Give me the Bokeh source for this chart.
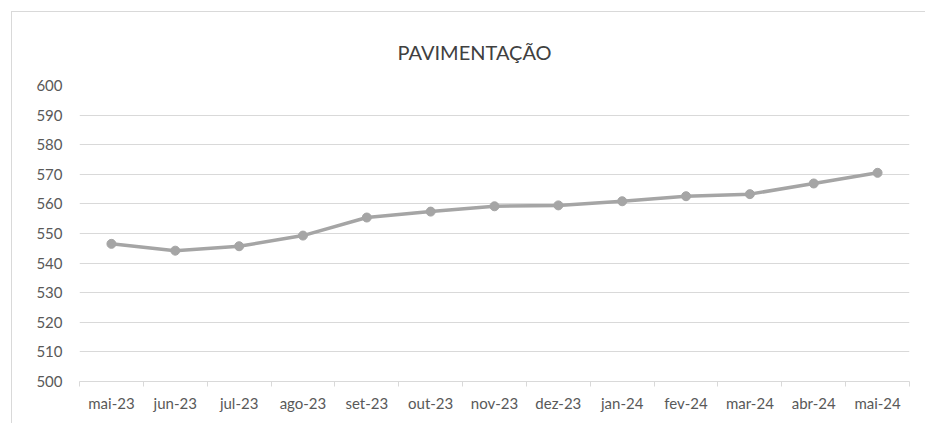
from bokeh.plotting import figure
from bokeh.models import Range1d, FixedTicker, Title, ColumnDataSource
from bokeh.embed import file_html
from bokeh.resources import INLINE

categories = ["mai-23", "jun-23", "jul-23", "ago-23", "set-23", "out-23", "nov-23",
              "dez-23", "jan-24", "fev-24", "mar-24", "abr-24", "mai-24"]
values = [546.5, 544.2, 545.7, 549.3, 555.4, 557.4, 559.2, 559.5, 560.9, 562.6, 563.3, 566.9, 570.5]
y_ticks = list(range(500, 601, 10))

xs = [i + 0.5 for i in range(len(categories))]
src = ColumnDataSource(dict(x=xs, y=values, cat=categories))

FONT = "Lato"
TXT = "#595959"
GRID = "#d9d9d9"

p = figure(width=914, height=412, output_backend="svg", toolbar_location=None,
           x_range=Range1d(0, len(categories)), y_range=Range1d(500, 600),
           min_border_left=67, min_border_right=17, min_border_top=73, min_border_bottom=43)
p.styles = {"margin-left": "11px", "margin-top": "11px",
            "border-top": "1px solid #d9d9d9", "border-left": "1px solid #d9d9d9"}
p.outline_line_color = None
p.background_fill_color = "white"
p.border_fill_color = "white"

t = Title(text="PAVIMENTAÇÃO", align="left", text_font=FONT, text_font_size="20px",
          text_font_style="normal", text_color="#404040", standoff=43, offset=318)
p.add_layout(t, "above")

# y axis
p.yaxis.ticker = FixedTicker(ticks=y_ticks)
p.yaxis.axis_line_color = None
p.yaxis.major_tick_line_color = None
p.yaxis.major_tick_out = 0
p.yaxis.major_tick_in = 0
p.yaxis.minor_tick_line_color = None
p.yaxis.major_label_text_font = FONT
p.yaxis.major_label_text_font_size = "15px"
p.yaxis.major_label_text_color = TXT
p.yaxis.major_label_standoff = 17

# x axis
p.xaxis.ticker = FixedTicker(ticks=xs, minor_ticks=list(range(len(categories) + 1)))
p.xaxis.major_label_overrides = {x: c for x, c in zip(xs, categories)}
p.xaxis.axis_line_color = GRID
p.xaxis.axis_line_width = 1
p.xaxis.major_tick_line_color = None
p.xaxis.minor_tick_line_color = GRID
p.xaxis.minor_tick_out = 5
p.xaxis.minor_tick_in = 0
p.xaxis.major_label_text_font = FONT
p.xaxis.major_label_text_font_size = "15px"
p.xaxis.major_label_text_color = TXT
p.xaxis.major_label_standoff = 6

p.xgrid.grid_line_color = None
p.ygrid.ticker = FixedTicker(ticks=y_ticks[1:])
p.ygrid.grid_line_color = GRID
p.ygrid.grid_line_width = 1

p.line("x", "y", source=src, line_color="#a5a5a5", line_width=3.5)
p.scatter("x", "y", source=src, size=9, fill_color="#a5a5a5", line_color="#a5a5a5")

open("out.html", "w").write(file_html(p, INLINE))
